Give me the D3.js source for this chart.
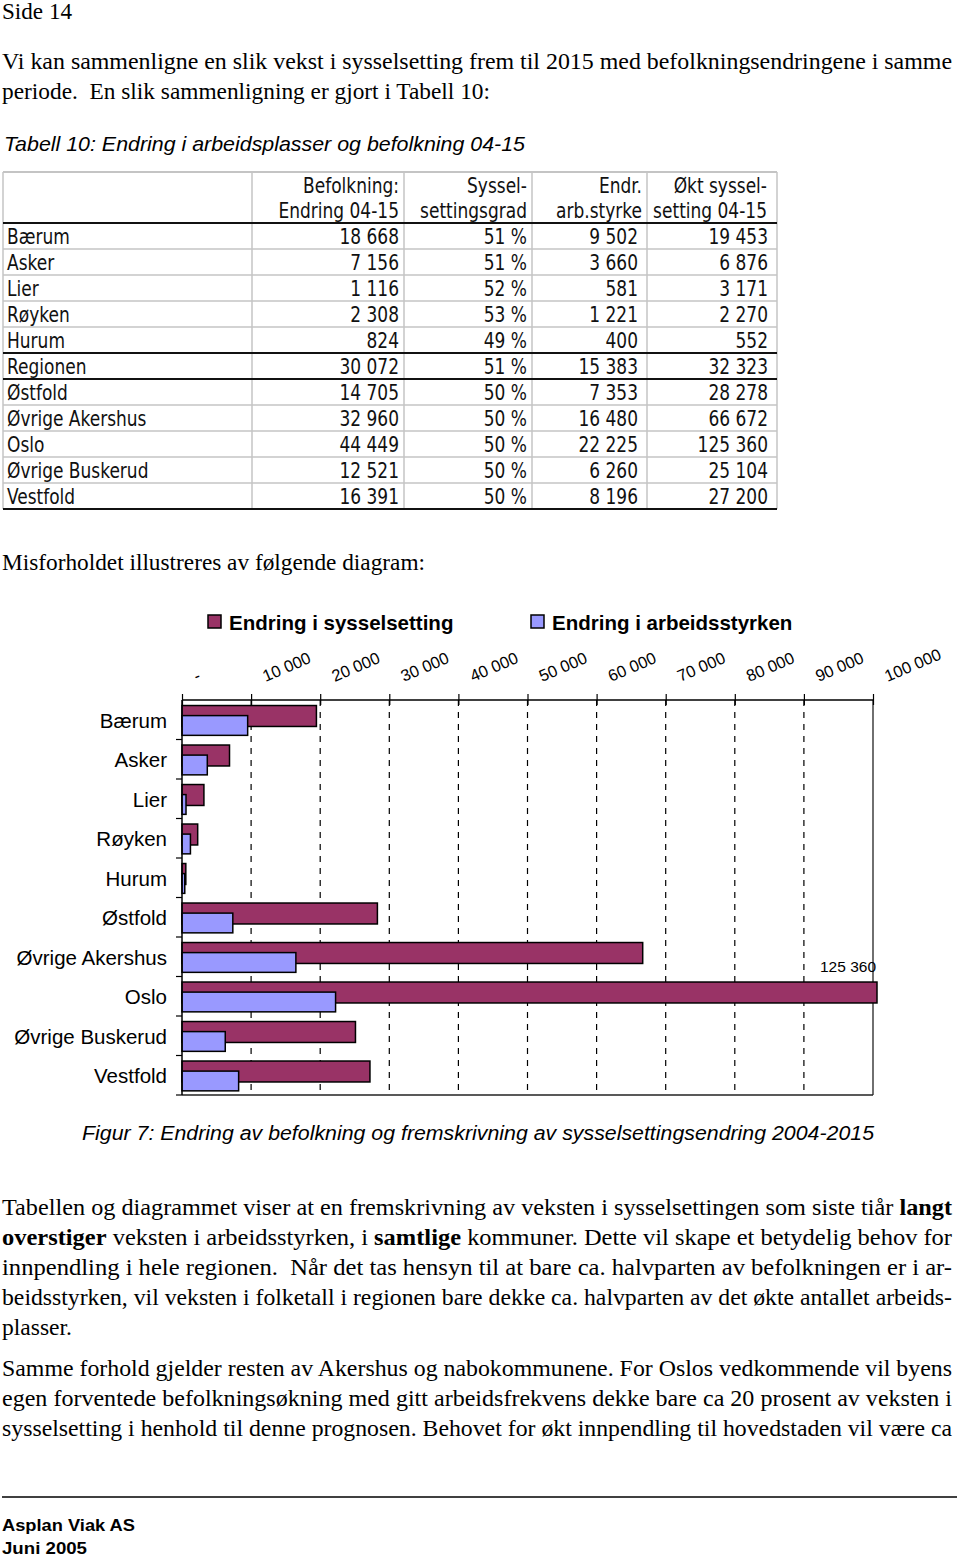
<!DOCTYPE html>
<html>
<head>
<meta charset="utf-8">
<script src="https://cdn.jsdelivr.net/npm/d3@7"></script>
<style>
  html, body { margin: 0; padding: 0; background: #fff; }
  svg { display: block; }
  text { white-space: pre; }
</style>
</head>
<body>
<script>
// ---------- DATA ----------
const tableRows = ["Bærum","Asker","Lier","Røyken","Hurum","Regionen","Østfold","Øvrige Akershus","Oslo","Øvrige Buskerud","Vestfold"];
const befolkning = [18668, 7156, 1116, 2308, 824, 30072, 14705, 32960, 44449, 12521, 16391];
const sysselGrad = [51, 51, 52, 53, 49, 51, 50, 50, 50, 50, 50];
const arbStyrke  = [9502, 3660, 581, 1221, 400, 15383, 7353, 16480, 22225, 6260, 8196];
const oktSyssel  = [19453, 6876, 3171, 2270, 552, 32323, 28278, 66672, 125360, 25104, 27200];
const tableHeaders = [["Befolkning:","Endring 04-15"],["Syssel-","settingsgrad"],["Endr.","arb.styrke"],["Økt syssel-","setting 04-15"]];

const chartCategories = ["Bærum","Asker","Lier","Røyken","Hurum","Østfold","Øvrige Akershus","Oslo","Øvrige Buskerud","Vestfold"];
const seriesNames = ["Endring i sysselsetting","Endring i arbeidsstyrken"];
const xTicks = [0,10000,20000,30000,40000,50000,60000,70000,80000,90000,100000];
const xMax = 100000;

// ---------- SETUP ----------
const svg = d3.select("body").append("svg").attr("width",960).attr("height",1557);
const loc = d3.formatLocale({decimal:",", thousands:" ", grouping:[3], currency:["",""]});
const fmt = loc.format(",d");
const SERIF = "'Liberation Serif','Times New Roman',serif";
const SANS = "'Liberation Sans',Arial,sans-serif";
const COND = "'DejaVu Sans Condensed','DejaVu Sans',sans-serif";

function textLine(y, segs, x0, x1, size, family, style) {
  const t = svg.append("text").attr("x", x0).attr("y", y)
    .attr("font-family", family).attr("font-size", size).attr("fill","#000");
  if (style) t.attr("font-style", style);
  if (x1 != null) t.attr("textLength", x1 - x0).attr("lengthAdjust","spacingAndGlyphs");
  segs.forEach(s => t.append("tspan").text(s[0]).attr("font-weight", s[1] ? "bold" : "normal"));
  return t;
}

// ---------- PAGE TEXT ----------
textLine(19, [["Side 14"]], 2, 72, 23, SERIF);
textLine(69, [["Vi kan sammenligne en slik vekst i sysselsetting frem til 2015 med befolkningsendringene i samme"]], 2, 952, 23, SERIF);
textLine(99, [["periode.  En slik sammenligning er gjort i Tabell 10:"]], 2, 490, 23, SERIF);
textLine(151, [["Tabell 10: Endring i arbeidsplasser og befolkning 04-15"]], 4, 525, 21, SANS, "italic");
textLine(570, [["Misforholdet illustreres av følgende diagram:"]], 2, 425, 23, SERIF);

const para2 = [
  [["Tabellen og diagrammet viser at en fremskrivning av veksten i sysselsettingen som siste tiår "],["langt",true]],
  [["overstiger",true],[" veksten i arbeidsstyrken, i "],["samtlige",true],[" kommuner. Dette vil skape et betydelig behov for"]],
  [["innpendling i hele regionen.  Når det tas hensyn til at bare ca. halvparten av befolkningen er i ar-"]],
  [["beidsstyrken, vil veksten i folketall i regionen bare dekke ca. halvparten av det økte antallet arbeids-"]],
  [["plasser."]]
];
para2.forEach((l,i) => textLine(1215 + i*30, l, 2, i === 4 ? 72 : 952, 23, SERIF));
const para3 = [
  [["Samme forhold gjelder resten av Akershus og nabokommunene. For Oslos vedkommende vil byens"]],
  [["egen forventede befolkningsøkning med gitt arbeidsfrekvens dekke bare ca 20 prosent av veksten i"]],
  [["sysselsetting i henhold til denne prognosen. Behovet for økt innpendling til hovedstaden vil være ca"]]
];
para3.forEach((l,i) => textLine(1376 + i*30, l, 2, 952, 23, SERIF));

// footer
svg.append("line").attr("x1",2).attr("x2",957).attr("y1",1497).attr("y2",1497).attr("stroke","#000").attr("stroke-width",1.5);
textLine(1531, [["Asplan Viak AS", true]], 2, 135, 16, SANS);
textLine(1554, [["Juni 2005", true]], 2, 87, 16, SANS);

// ---------- TABLE ----------
const colX = [3, 252, 404, 532, 647, 777];
const tTop = 172, hBottom = 223, rowH = 26;
const rowY = d3.range(tableRows.length + 1).map(i => hBottom + i*rowH);
const tBottom = rowY[rowY.length-1];
const tg = svg.append("g");
rowY.slice(1, -1).forEach(y => tg.append("line").attr("x1",colX[0]).attr("x2",colX[5]).attr("y1",y).attr("y2",y).attr("stroke","#c4c4c4").attr("stroke-width",1.5));
tg.append("line").attr("x1",colX[0]).attr("x2",colX[5]).attr("y1",tTop).attr("y2",tTop).attr("stroke","#c4c4c4").attr("stroke-width",2);
colX.forEach(x => tg.append("line").attr("x1",x).attr("x2",x).attr("y1",tTop).attr("y2",tBottom).attr("stroke","#c4c4c4").attr("stroke-width",1.5));
[hBottom, rowY[5], rowY[6], tBottom].forEach(y => tg.append("line").attr("x1",colX[0]).attr("x2",colX[5]).attr("y1",y).attr("y2",y).attr("stroke","#111").attr("stroke-width",2));

function cellText(x, y, s, anchor) {
  tg.append("text").attr("transform", `translate(${x},${y}) scale(0.88,1)`)
    .attr("text-anchor", anchor).attr("font-family",COND).attr("font-stretch","condensed")
    .attr("font-size",21.5).attr("fill","#111").text(s);
}
const hdrRight = [399, 527, 642, 767];
const dataRight = [399, 527, 638, 768];
tableHeaders.forEach((h,j) => h.forEach((s,k) => cellText(hdrRight[j], 193 + k*25, s, "end")));
const cols = [befolkning.map(fmt), sysselGrad.map(v => v + " %"), arbStyrke.map(fmt), oktSyssel.map(fmt)];
tableRows.forEach((r,i) => {
  const by = rowY[i] + 21;
  cellText(7, by, r, "start");
  cols.forEach((c,j) => cellText(dataRight[j], by, c[i], "end"));
});

// ---------- CHART ----------
const chartVals = chartCategories.map(c => {
  const i = tableRows.indexOf(c);
  return {cat: c, syss: oktSyssel[i], arb: arbStyrke[i]};
});
const pL = 182, pR = 873, pT = 700, pB = 1095;
const x = d3.scaleLinear().domain([0, xMax]).range([pL, pR]);
const y = d3.scaleBand().domain(chartCategories).range([pT, pB]);
const bw = y.bandwidth();
const cg = svg.append("g");

cg.selectAll(".grid").data(xTicks.filter(t => t > 0 && t < xMax)).join("line")
  .attr("x1", d => x(d)).attr("x2", d => x(d)).attr("y1", pT).attr("y2", pB)
  .attr("stroke","#000").attr("stroke-width",1.2).attr("stroke-dasharray","6,6");
cg.append("line").attr("x1",pR).attr("x2",pR).attr("y1",pT).attr("y2",pB).attr("stroke","#222").attr("stroke-width",1.3);
cg.append("line").attr("x1",pL).attr("x2",pR).attr("y1",pB).attr("y2",pB).attr("stroke","#222").attr("stroke-width",1.3);

const barX = v => v > xMax ? x(xMax) + 4 : x(v);
const colors = ["#993366", "#9999ff"];
cg.selectAll(".bs").data(chartVals).join("rect")
  .attr("x", pL).attr("y", d => y(d.cat) + bw*0.14)
  .attr("width", d => barX(d.syss) - pL).attr("height", bw*0.53)
  .attr("fill", colors[0]).attr("stroke","#000").attr("stroke-width",1.5);
cg.selectAll(".ba").data(chartVals).join("rect")
  .attr("x", pL).attr("y", d => y(d.cat) + bw*0.395)
  .attr("width", d => barX(d.arb) - pL).attr("height", bw*0.5)
  .attr("fill", colors[1]).attr("stroke","#000").attr("stroke-width",1.5);
cg.selectAll(".ov").data(chartVals.filter(d => d.syss > xMax)).join("text")
  .attr("x", pR + 3).attr("y", d => y(d.cat) - 5)
  .attr("text-anchor","end").attr("font-family",SANS).attr("font-size",15.5).attr("fill","#000")
  .text(d => fmt(d.syss));

const xAxis = d3.axisTop(x).tickValues(xTicks).tickSize(0).tickFormat(d => d === 0 ? "-" : fmt(d));
const ax = cg.append("g").attr("transform", `translate(0,${pT})`).call(xAxis);
ax.select(".domain").attr("stroke","#000").attr("stroke-width",1.5).attr("d", `M${pL},0H${pR}`);
ax.selectAll(".tick line").attr("y1",-6).attr("y2",5).attr("stroke","#000").attr("stroke-width",1.2);
ax.selectAll(".tick text").attr("font-family",SANS).attr("font-size",16.5).attr("fill","#000")
  .attr("text-anchor","start").attr("x",0).attr("y",0).attr("dy",0)
  .attr("transform","translate(14,-18) rotate(-23)");

cg.append("line").attr("x1",pL).attr("x2",pL).attr("y1",pT).attr("y2",pB).attr("stroke","#000").attr("stroke-width",1.5);
cg.selectAll(".lt").data(chartCategories.slice(1).map(c => y(c)).concat([pB])).join("line")
  .attr("x1",pL-6).attr("x2",pL).attr("y1",d=>d).attr("y2",d=>d).attr("stroke","#000").attr("stroke-width",1.2);
cg.selectAll(".cl").data(chartCategories).join("text")
  .attr("x", 167).attr("y", d => y(d) + bw/2 + 8)
  .attr("text-anchor","end").attr("font-family",SANS).attr("font-size",20.5).attr("fill","#000").text(d => d);

const legX = [208, 531];
seriesNames.forEach((s,i) => {
  cg.append("rect").attr("x",legX[i]).attr("y",615).attr("width",13).attr("height",13)
    .attr("fill",colors[i]).attr("stroke","#000").attr("stroke-width",1.5);
  cg.append("text").attr("x",legX[i]+21).attr("y",630).attr("font-family",SANS).attr("font-weight","bold")
    .attr("font-size",20.5).attr("fill","#000").text(s);
});

textLine(1140, [["Figur 7: Endring av befolkning og fremskrivning av sysselsettingsendring 2004-2015"]], 82, 874, 20.5, SANS, "italic");
</script>
</body>
</html>
